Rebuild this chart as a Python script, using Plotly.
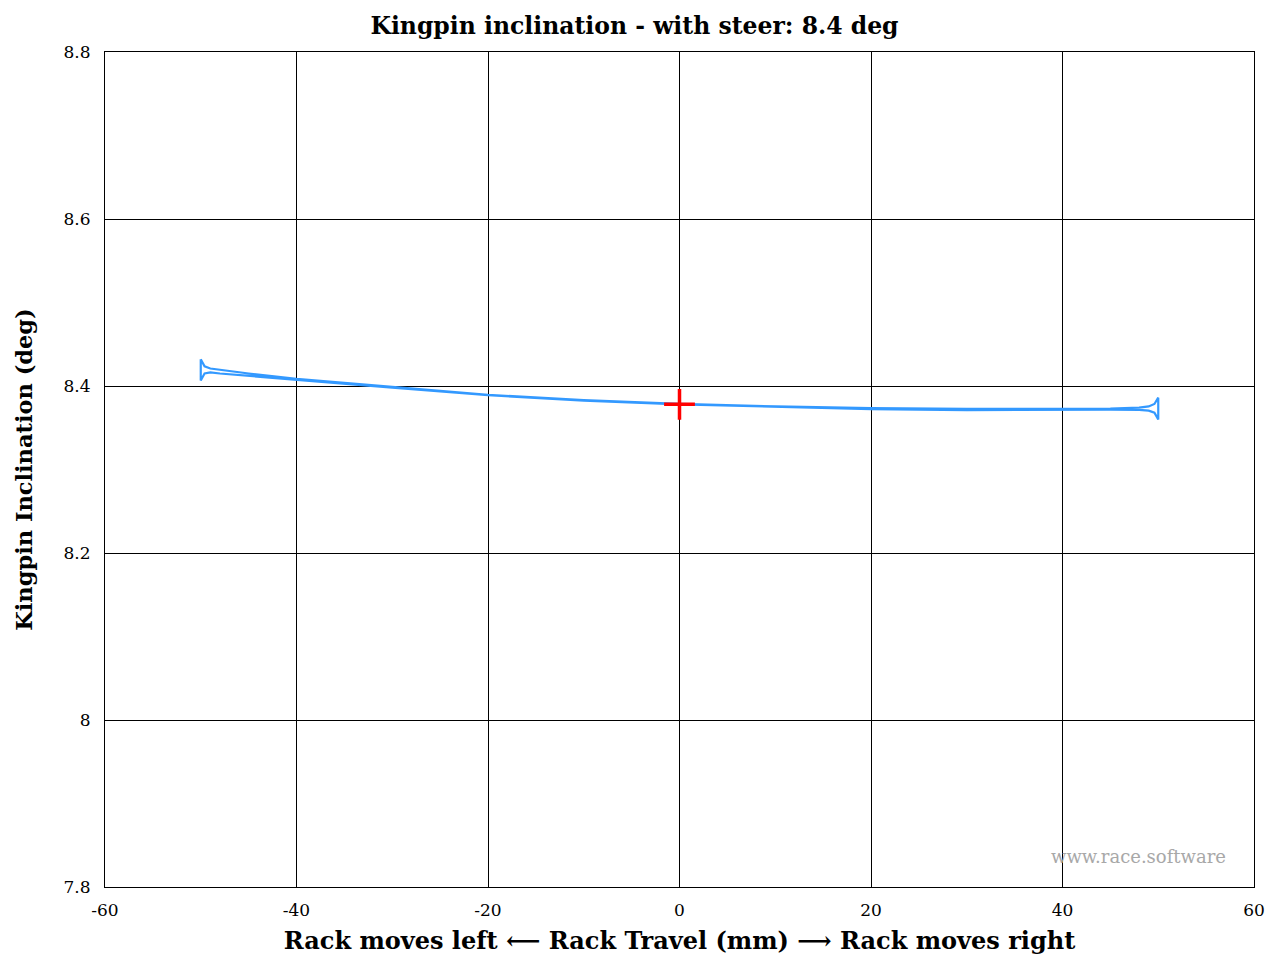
import plotly.graph_objects as go

# Kingpin inclination over the rack travel sweep (closed loop: out and back)
rack_travel_mm = [-50.0, -49.6, -49.0, -48.0, -45.0, -40.0, -30.0, -20.0, -10.0, 0.0,
                  10.0, 20.0, 30.0, 40.0, 45.0, 48.0, 49.0, 49.6, 50.0,
                  50.0, 49.6, 49.0, 48.0, 45.0, 40.0, 30.0, 20.0, 10.0, 0.0,
                  -10.0, -20.0, -30.0, -40.0, -45.0, -48.0, -49.0, -49.6, -50.0, -50.0]
kingpin_incl_deg = [8.432, 8.4235, 8.4210, 8.4195, 8.4150, 8.4085, 8.3990, 8.3895, 8.3830, 8.3785,
                    8.3755, 8.3735, 8.3725, 8.3725, 8.3730, 8.3740, 8.3755, 8.3785, 8.3860,
                    8.3600, 8.3680, 8.3705, 8.3715, 8.3718, 8.3718, 8.3712, 8.3722, 8.3750, 8.3780,
                    8.3825, 8.3890, 8.3980, 8.4070, 8.4120, 8.4150, 8.4163, 8.4150, 8.4067, 8.432]

# Reference (static) position
ref_x = [0.0]
ref_y = [8.378]

x_ticks = [-60, -40, -20, 0, 20, 40, 60]
x_tick_text = ["-60", "-40", "-20", "0", "20", "40", "60"]
y_ticks = [7.8, 8.0, 8.2, 8.4, 8.6, 8.8]
y_tick_text = ["7.8", "8", "8.2", "8.4", "8.6", "8.8"]

serif = "DejaVu Serif"
clear = "rgba(0,0,0,0)"

fig = go.Figure()
fig.add_trace(go.Scatter(
    x=rack_travel_mm, y=kingpin_incl_deg, mode="lines",
    line=dict(color="#3399ff", width=2.2), hoverinfo="x+y", showlegend=False))
fig.add_trace(go.Scatter(
    x=ref_x, y=ref_y, mode="markers",
    marker=dict(symbol="cross-thin", size=22, line=dict(color="#ff0000", width=3.5)),
    showlegend=False))

fig.update_layout(
    width=1269, height=958,
    margin=dict(l=105, r=15, t=52, b=71),
    paper_bgcolor="white", plot_bgcolor="white",
    font=dict(family=serif, size=17, color="black"),
    title=dict(text="<b>Kingpin inclination - with steer: 8.4 deg</b>",
               x=0.5, xanchor="center", y=0.973, yanchor="middle",
               font=dict(family=serif, size=23.5, color="black")),
    xaxis=dict(range=[-60, 60], tickvals=x_ticks, ticktext=x_tick_text, showgrid=True,
               gridcolor="black", gridwidth=1, zeroline=False, showline=True,
               linecolor="black", linewidth=1, mirror=True, ticks="outside",
               ticklen=8, tickcolor=clear, automargin=False,
               tickfont=dict(family=serif, size=17),
               title=dict(text="<b>Rack moves left \u27f5 Rack Travel (mm) \u27f6 Rack moves right</b>",
                          font=dict(family=serif, size=24), standoff=12)),
    yaxis=dict(range=[7.8, 8.8], tickvals=y_ticks, ticktext=y_tick_text, showgrid=True,
               gridcolor="black", gridwidth=1, zeroline=False, showline=True,
               linecolor="black", linewidth=1, mirror=True, ticks="outside",
               ticklen=10, tickcolor=clear, automargin=False,
               tickfont=dict(family=serif, size=17),
               title=dict(text="<b>Kingpin Inclination (deg)</b>",
                          font=dict(family=serif, size=22.5), standoff=24)),
    annotations=[dict(text="www.race.software", xref="paper", yref="paper",
                      x=0.9774, y=0.022, xanchor="right", yanchor="bottom",
                      showarrow=False, font=dict(family=serif, size=18, color="#a8a8a8"))],
)

fig.write_html("out.html")
